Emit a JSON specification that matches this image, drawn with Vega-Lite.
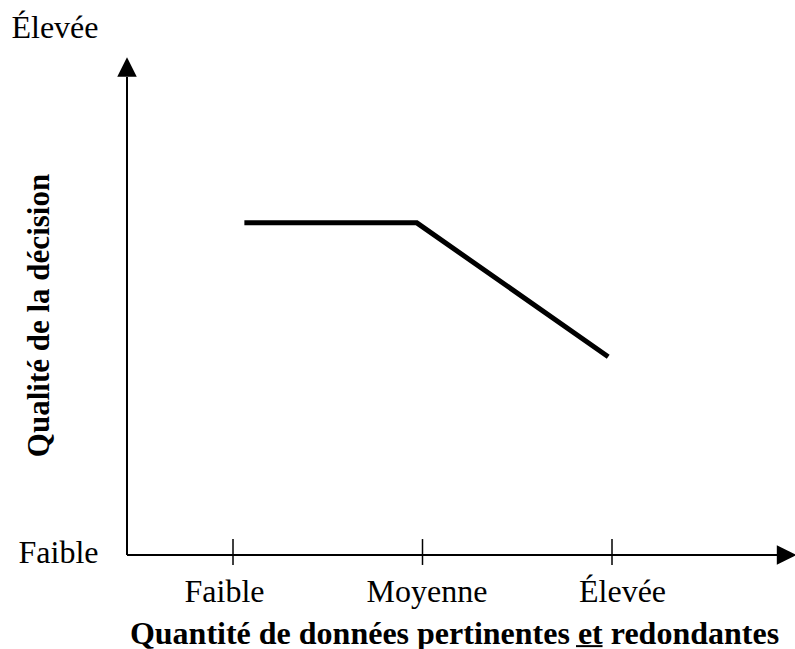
{
  "$schema": "https://vega.github.io/schema/vega-lite/v6.json",
  "width": 668,
  "height": 555,
  "autosize": {"type": "none"},
  "padding": {"left": 127, "top": 0, "right": 0, "bottom": 94},
  "background": "white",
  "config": {"view": {"stroke": null}, "font": "Liberation Serif"},
  "datasets": {
    "curve": [
      {"x": 1.06, "y": 6.67},
      {"x": 1.97, "y": 6.67},
      {"x": 2.98, "y": 3.98}
    ],
    "axes": [
      {"x": 0.4406, "x2": 0.4406, "y": 0, "y2": 9.6},
      {"x": 0.4406, "x2": 3.88, "y": 0, "y2": 0}
    ],
    "ticks": [
      {"x": 1, "y": -0.2, "y2": 0.32},
      {"x": 2, "y": -0.2, "y2": 0.32},
      {"x": 3, "y": -0.2, "y2": 0.32}
    ],
    "underline": [
      {"x": 2.81, "x2": 2.95, "y": -1.83}
    ],
    "arrows": [
      {"x": 0.4406, "y": 9.8, "dir": "up"},
      {"x": 3.921, "y": 0, "dir": "right"}
    ]
  },
  "encoding": {
    "x": {
      "field": "x",
      "type": "quantitative",
      "scale": {"domain": [0.4406, 3.9657], "nice": false, "zero": false},
      "axis": {
        "values": [1, 2, 3],
        "labelExpr": "datum.value == 1 ? 'Faible' : datum.value == 2 ? 'Moyenne' : 'Élevée'",
        "domain": false,
        "ticks": false,
        "tickSize": 0,
        "grid": false,
        "labelPadding": 46,
        "labelFontSize": 32,
        "labelFont": "Liberation Serif",
        "labelColor": "black",
        "labelBaseline": "alphabetic",
        "labelAlign": "center",
        "labelFlush": false,
        "labelOverlap": false,
        "labelBound": false,
        "labelOffset": {"condition": [{"test": "datum.value == 1", "value": -9}, {"test": "datum.value == 3", "value": 10}], "value": 4},
        "title": "Quantité de données pertinentes et redondantes",
        "titleFont": "Liberation Serif",
        "titleFontSize": 32,
        "titleFontWeight": "bold",
        "titleColor": "black",
        "titleX": 327,
        "titleY": 88,
        "titleAlign": "center",
        "titleBaseline": "alphabetic",
        "titleAnchor": null
      }
    },
    "y": {
      "field": "y",
      "type": "quantitative",
      "scale": {"domain": [0, 11.145], "nice": false, "zero": false},
      "axis": {
        "values": [0.05, 10.59],
        "labelExpr": "datum.value < 5 ? 'Faible' : 'Élevée'",
        "domain": false,
        "ticks": false,
        "tickSize": 0,
        "grid": false,
        "labelPadding": 29,
        "labelFontSize": 32,
        "labelFont": "Liberation Serif",
        "labelColor": "black",
        "labelBaseline": "middle",
        "labelAlign": "right",
        "labelFlush": false,
        "labelOverlap": false,
        "labelBound": false,
        "title": "Qualité de la décision",
        "titleFont": "Liberation Serif",
        "titleFontSize": 31,
        "titleFontWeight": "bold",
        "titleColor": "black",
        "titleX": -79,
        "titleY": 315,
        "titleAngle": -90,
        "titleAlign": "center",
        "titleBaseline": "alphabetic",
        "titleAnchor": null
      }
    }
  },
  "layer": [
    {
      "data": {"name": "curve"},
      "mark": {"type": "line", "color": "black", "strokeWidth": 5, "strokeJoin": "miter", "strokeCap": "butt"}
    },
    {
      "data": {"name": "axes"},
      "mark": {"type": "rule", "color": "black", "strokeWidth": 2},
      "encoding": {"x2": {"field": "x2"}, "y2": {"field": "y2"}}
    },
    {
      "data": {"name": "ticks"},
      "mark": {"type": "rule", "color": "black", "strokeWidth": 1.5},
      "encoding": {"y2": {"field": "y2"}}
    },
    {
      "data": {"name": "underline"},
      "mark": {"type": "rule", "color": "black", "strokeWidth": 2},
      "encoding": {"x2": {"field": "x2"}}
    },
    {
      "data": {"name": "arrows"},
      "mark": {"type": "point", "filled": true, "color": "black", "opacity": 1, "size": 380, "strokeWidth": 0},
      "encoding": {
        "shape": {
          "field": "dir",
          "type": "nominal",
          "scale": {"domain": ["up", "right"], "range": ["M0,-1L1,1L-1,1Z", "M1,0L-1,-1L-1,1Z"]},
          "legend": null
        }
      }
    }
  ]
}
